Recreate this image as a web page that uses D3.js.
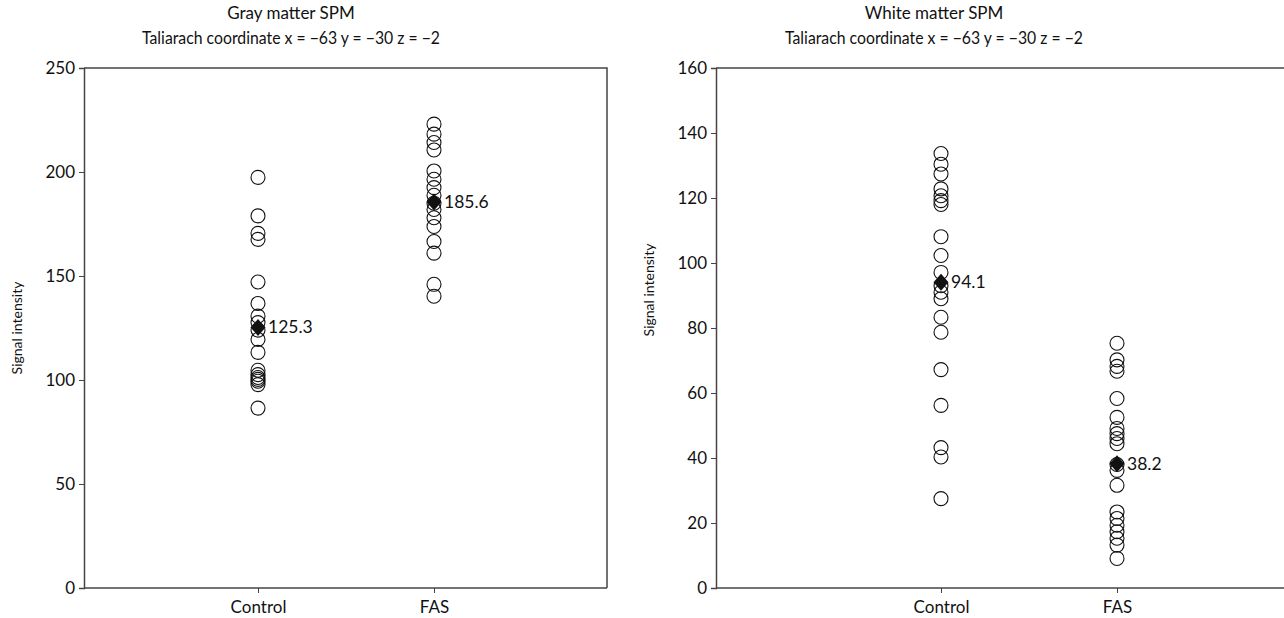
<!DOCTYPE html>
<html>
<head>
<meta charset="utf-8">
<script src="https://cdn.jsdelivr.net/npm/d3@7"></script>
<style>
  body { margin: 0; background: #fff; }
  svg text { font-family: Lato, "Open Sans", sans-serif; fill: #111; }
</style>
</head>
<body>
<svg id="chart" width="1284" height="618"></svg>
<script>
// Data
const categories = ["Control", "FAS"];

const grayControl = [197.4, 178.9, 170.5, 167.6, 147.1, 136.8, 130.7, 127.6, 124.0, 119.5, 113.3,
  104.7, 102.6, 101.2, 100.3, 99.4, 97.8, 86.5];
const grayFAS = [223.0, 218.2, 214.2, 210.6, 200.5, 196.5, 192.5, 188.8, 185.0, 182.0, 178.0,
  173.8, 166.6, 161.0, 146.0, 140.3];
const grayMeans = [125.3, 185.6];

const whiteControl = [133.7, 130.4, 127.4, 122.8, 120.7, 119.2, 118.0, 108.1, 102.3, 97.1, 93.0,
  91.0, 89.0, 83.3, 78.7, 67.2, 56.2, 43.2, 40.3, 27.5];
const whiteFAS = [75.3, 70.2, 68.2, 66.7, 58.3, 52.5, 49.1, 47.5, 46.0, 44.4, 38.0, 36.2, 31.6,
  23.4, 21.4, 19.3, 17.3, 15.3, 13.2, 9.1];
const whiteMeans = [94.1, 38.2];

const grayTicks = [0, 50, 100, 150, 200, 250];
const whiteTicks = [0, 20, 40, 60, 80, 100, 120, 140, 160];

const titleLine2 = "Taliarach coordinate x = \u221263 y = \u221230 z = \u22122";

const svg = d3.select("#chart");

function panel(opts) {
  const g = svg.append("g");
  const y = d3.scaleLinear().domain([0, opts.max]).range([588, 68]);
  const x = d3.scalePoint().domain(categories).range([opts.cx0, opts.cx1]);

  // frame: top and right borders
  g.append("path")
    .attr("d", `M${opts.left},68 H${opts.right} V588`)
    .attr("fill", "none").attr("stroke", "#444").attr("stroke-width", 1.5);

  // y axis
  const ya = g.append("g")
    .attr("transform", `translate(${opts.left},0)`)
    .call(d3.axisLeft(y).tickValues(opts.ticks).tickSize(5).tickPadding(4));
  ya.select(".domain").attr("stroke", "#444").attr("stroke-width", 1.5);
  ya.selectAll(".tick line").attr("stroke", "#444");
  ya.selectAll(".tick text").style("font-size", "17px");

  // x axis
  const xa = g.append("g")
    .attr("transform", "translate(0,588)")
    .call(d3.axisBottom(x).tickSize(5).tickPadding(8));
  xa.select(".domain").attr("d", `M${opts.left},0H${opts.right}`)
    .attr("stroke", "#444").attr("stroke-width", 1.5);
  xa.selectAll(".tick line").attr("stroke", "#444");
  xa.selectAll(".tick text").style("font-size", "17px");

  // titles
  const tx = opts.titleX;
  g.append("text").attr("x", tx).attr("y", 19).attr("text-anchor", "middle")
    .style("font-size", "17px").text(opts.title);
  g.append("text").attr("x", tx - 149).attr("y", 44)
    .attr("textLength", 298).attr("lengthAdjust", "spacingAndGlyphs")
    .style("font-size", "17px").text(titleLine2);

  // y label
  g.append("text")
    .attr("transform", `translate(${opts.left - 62},${opts.labelY}) rotate(-90)`)
    .attr("text-anchor", "middle").style("font-size", "14px")
    .text("Signal intensity");

  // points
  opts.series.forEach((vals, i) => {
    g.append("g").selectAll("circle").data(vals).join("circle")
      .attr("cx", x(categories[i]))
      .attr("cy", d => y(d))
      .attr("r", 7)
      .attr("fill", "none")
      .attr("stroke", "#111").attr("stroke-width", 1.1);
  });

  // means
  opts.means.forEach((m, i) => {
    g.append("path").attr("d", "M0,-8.5L7.5,0L0,8.5L-7.5,0Z")
      .attr("transform", `translate(${x(categories[i])},${y(m)})`)
      .attr("fill", "#111");
    g.append("text").attr("x", x(categories[i]) + 10).attr("y", y(m) + 6)
      .style("font-size", "17.5px").text(m.toFixed(1));
  });
}

panel({
  left: 84, right: 607, cx0: 258, cx1: 434, max: 250, ticks: grayTicks,
  title: "Gray matter SPM", titleX: 291, labelY: 328,
  series: [grayControl, grayFAS], means: grayMeans
});

panel({
  left: 716, right: 1300, cx0: 941, cx1: 1117, max: 160, ticks: whiteTicks,
  title: "White matter SPM", titleX: 934, labelY: 290,
  series: [whiteControl, whiteFAS], means: whiteMeans
});
</script>
</body>
</html>
